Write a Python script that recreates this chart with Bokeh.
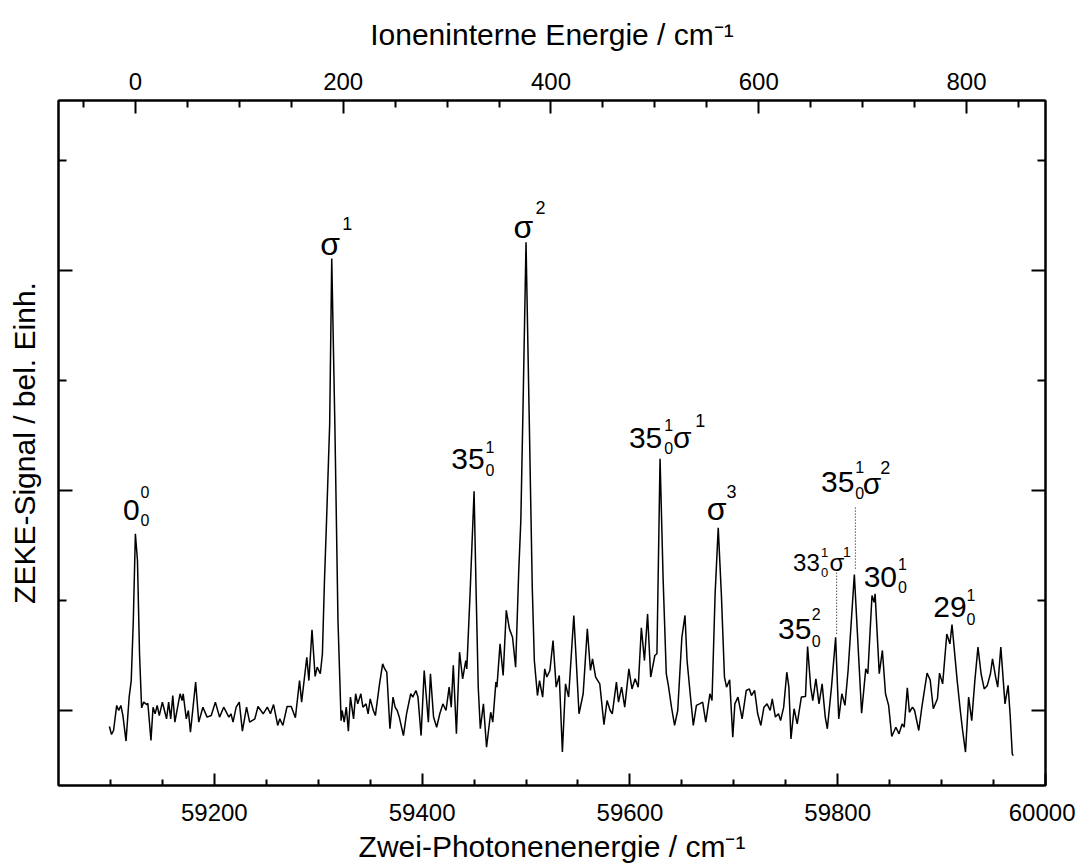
from bokeh.plotting import figure
from bokeh.models import Range1d, LinearAxis, FixedTicker, ColumnDataSource
from bokeh.embed import file_html
from bokeh.resources import INLINE
from bokeh.core.properties import value

# ---------------- data ----------------
wavenumber = [
    59099, 59101, 59103, 59106, 59108, 59110, 59112, 59115, 59118, 59120,
    59122, 59124, 59126, 59128, 59130, 59132, 59135, 59136, 59139, 59141,
    59143, 59145, 59147, 59150, 59152, 59154, 59156, 59158, 59160, 59162,
    59167, 59169, 59170, 59173, 59175, 59177, 59182, 59185, 59189, 59193,
    59197, 59201, 59205, 59209, 59214, 59216, 59218, 59221, 59224, 59227,
    59231, 59234, 59239, 59242, 59247, 59251, 59254, 59257, 59261, 59263,
    59266, 59270, 59274, 59278, 59282, 59284, 59289, 59291, 59294, 59297,
    59299, 59302, 59304, 59306, 59308, 59311, 59313, 59316, 59319, 59322,
    59323, 59325, 59327, 59329, 59331, 59334, 59336, 59338, 59341, 59343,
    59346, 59348, 59350, 59353, 59355, 59359, 59362, 59364, 59366, 59369,
    59372, 59374, 59376, 59378, 59382, 59385, 59389, 59391, 59394, 59396,
    59399, 59402, 59406, 59408, 59411, 59414,
    59417, 59420, 59423, 59426, 59428, 59430, 59433, 59436, 59439, 59442,
    59443, 59446, 59450, 59452, 59454, 59456, 59459, 59462, 59466, 59468,
    59471, 59472, 59475, 59478, 59481, 59484, 59487, 59490, 59493, 59495,
    59497, 59500, 59503, 59506, 59508, 59511, 59513, 59516, 59518, 59520,
    59523, 59526, 59529, 59532, 59535, 59538, 59541, 59546, 59548, 59551,
    59555, 59559, 59562, 59564, 59567, 59571, 59575, 59578, 59581, 59583,
    59587, 59589, 59592, 59595, 59599, 59602, 59605, 59608, 59611, 59614,
    59617, 59620, 59624, 59626, 59629, 59632, 59635, 59637, 59640, 59643,
    59646, 59650, 59653, 59655, 59658, 59661, 59664, 59667, 59670, 59673,
    59677, 59679, 59682, 59685, 59688, 59691, 59693, 59696, 59699, 59701,
    59704, 59708, 59712, 59715, 59717, 59720, 59723, 59726, 59729, 59732,
    59735, 59737, 59740, 59743, 59745, 59748, 59751, 59753, 59755, 59758,
    59761, 59765, 59769, 59771, 59774, 59776, 59779, 59782, 59785, 59788,
    59790, 59794, 59798, 59801, 59804, 59807, 59810, 59816, 59819, 59823,
    59827, 59829, 59833, 59835, 59836, 59840, 59843, 59846, 59849, 59852,
    59856, 59859, 59862, 59864, 59867, 59869, 59872, 59874, 59878, 59881,
    59886, 59889, 59892, 59896, 59898, 59901, 59905, 59908, 59910, 59915,
    59918, 59920, 59923, 59926, 59929, 59932, 59935, 59938, 59941, 59944,
    59947, 59949, 59952, 59954, 59957, 59961, 59964, 59966, 59968, 59969,
]
zeke_signal = [
    -0.073, -0.109, -0.091, 0.023, 0.000, 0.023, -0.023, -0.139, 0.061, 0.136,
    0.409, 0.803, 0.682, 0.257, 0.012, 0.038, 0.027, 0.033, -0.136, 0.015,
    -0.015, 0.023, -0.023, 0.038, 0.000, -0.038, 0.038, -0.038, 0.068, -0.053,
    0.076, 0.045, 0.076, -0.038, 0.000, -0.099, 0.129, -0.053, 0.015, -0.030,
    -0.023, 0.038, -0.030, 0.015, -0.030, -0.015, -0.053, 0.015, 0.038, -0.094,
    0.015, -0.053, -0.038, 0.018, -0.015, 0.015, -0.015, 0.027, -0.068, -0.038,
    -0.068, 0.018, 0.018, -0.033, 0.136, 0.038, 0.242, 0.136, 0.367, 0.155,
    0.197, 0.167, 0.257, 0.591, 0.863, 1.300, 2.055, 1.300, 0.409, -0.046,
    0.000, -0.053, 0.015, -0.094, 0.061, -0.038, 0.076, 0.030, 0.076, 0.015,
    0.030, -0.015, 0.053, 0.000, -0.023, 0.121, 0.212, 0.189, 0.174, -0.083,
    0.061, 0.015, 0.000, -0.030, -0.114, -0.015, 0.076, 0.061, 0.091, 0.061,
    -0.114, 0.182, -0.053, 0.167, -0.030, -0.076,
    -0.015, 0.030, 0.000, 0.106, 0.015, 0.205, -0.106, 0.265, 0.144, 0.227,
    0.189, 0.515, 0.997, 0.530, 0.106, -0.083, 0.030, -0.167, -0.008, -0.053,
    0.129, 0.106, 0.303, 0.159, 0.455, 0.371, 0.333, 0.197, 0.636, 0.863,
    1.350, 2.129, 1.350, 0.560, 0.227, 0.068, 0.136, 0.061, 0.189, 0.152,
    0.182, 0.318, 0.106, 0.159, -0.189, 0.121, 0.061, 0.432, 0.257, -0.015,
    0.076, 0.371, 0.182, 0.235, 0.152, 0.121, -0.064, 0.045, 0.000, -0.015,
    0.129, 0.038, 0.106, 0.015, 0.189, 0.098, 0.144, 0.106, 0.376, 0.227,
    0.439, 0.152, 0.250, 0.258, 1.144, 0.591, 0.167, 0.114, 0.015, -0.068,
    0.000, 0.333, 0.432, 0.227, 0.076, -0.068, 0.023, 0.030, 0.038, -0.053,
    0.076, 0.045, 0.530, 0.830, 0.530, 0.152, 0.106, 0.139, -0.121, 0.030,
    0.061, -0.038, 0.091, 0.098, 0.068, 0.091, -0.015, -0.068, 0.015, 0.030,
    0.000, 0.053, -0.030, -0.015, -0.046, 0.015, 0.174, 0.106, -0.129, 0.008,
    -0.061, 0.061, 0.064, 0.291, 0.106, 0.045, 0.144, 0.030, 0.121, -0.030,
    -0.083, 0.106, 0.333, -0.038, 0.076, 0.023, 0.182, 0.618, 0.348, -0.012,
    0.189, 0.167, 0.523, 0.492, 0.530, 0.167, 0.273, 0.076, 0.023, -0.118,
    -0.076, -0.106, -0.061, -0.076, 0.103, -0.008, 0.015, 0.000, -0.091, 0.015,
    0.170, 0.139, 0.008, 0.053, 0.170, 0.121, 0.348, 0.303, 0.391, 0.136,
    0.000, -0.083, -0.189, 0.061, -0.046, 0.136, 0.288, 0.167, 0.098, 0.114,
    0.167, 0.235, 0.152, 0.106, 0.288, 0.030, 0.114, -0.023, -0.197, -0.205,
]

# band origin (0-0 transition) used for the ion internal energy axis
band_origin = 59124

bottom_ticks = [59200, 59400, 59600, 59800, 60000]
bottom_minor = [59100, 59150, 59250, 59300, 59350, 59450, 59500, 59550,
                59650, 59700, 59750, 59850, 59900, 59950]
top_ticks = [0, 200, 400, 600, 800]
top_minor = [-50, 50, 100, 150, 250, 300, 350, 450, 500, 550, 650, 700, 750, 850]
y_ticks = [0, 1, 2]
y_minor = [0.5, 1.5, 2.5]

# peak assignments: pieces of text (main, subscript, superscript)
label_text = ["0", "0", "0",
              "σ", "1",
              "σ", "2",
              "35", "0", "1",
              "35", "0", "1", "σ", "1",
              "σ", "3",
              "35", "0", "1", "σ", "2",
              "33", "0", "1", "σ", "1",
              "30", "0", "1",
              "35", "0", "2",
              "29", "0", "1"]
label_x = [59112, 59129, 59129,
           59302, 59323,
           59488, 59509,
           59428, 59461, 59461,
           59599, 59633, 59633, 59641.5, 59663,
           59674, 59693,
           59784, 59817, 59817, 59824, 59841,
           59757, 59784, 59784, 59792, 59805,
           59825, 59858, 59858,
           59742.5, 59775, 59775,
           59892, 59924, 59924]
label_y = [0.912, 0.864, 0.992,
           2.121, 2.212,
           2.197, 2.288,
           1.144, 1.094, 1.197,
           1.241, 1.195, 1.300, 1.241, 1.318,
           0.917, 0.997,
           1.038, 0.988, 1.106, 1.030, 1.106,
           0.674, 0.629, 0.720, 0.674, 0.720,
           0.609, 0.560, 0.667,
           0.371, 0.318, 0.440,
           0.470, 0.417, 0.523]
label_size = ["30px", "16px", "16px",
              "32px", "18px",
              "32px", "18px",
              "30px", "16px", "16px",
              "30px", "16px", "16px", "30px", "18px",
              "32px", "18px",
              "30px", "16px", "16px", "30px", "18px",
              "24px", "13px", "13px", "24px", "14px",
              "30px", "16px", "16px",
              "30px", "16px", "16px",
              "30px", "16px", "16px"]

# dotted assignment lines
guide_x = [59817, 59799]
guide_y0 = [0.645, 0.349]
guide_y1 = [0.924, 0.629]

FONT = "Liberation Sans"

p = figure(frame_width=987, frame_height=685,
           x_range=Range1d(59050, 60000), y_range=Range1d(-0.341, 2.773),
           output_backend="svg", toolbar_location=None,
           x_axis_location=None, y_axis_location=None,
           min_border_left=58, min_border_right=30,
           min_border_top=100, min_border_bottom=78,
           background_fill_color="white", border_fill_color="white")
p.grid.visible = False
p.outline_line_color = "black"
p.outline_line_width = 2

p.extra_x_ranges = {"ion": Range1d(59050 - band_origin, 60000 - band_origin)}


def style(ax, major_len, minor_len):
    ax.axis_line_color = "black"
    ax.axis_line_width = 2
    ax.major_tick_line_width = 2
    ax.minor_tick_line_width = 2
    ax.major_tick_in = major_len
    ax.major_tick_out = 0
    ax.minor_tick_in = minor_len
    ax.minor_tick_out = 0
    ax.major_label_text_font = FONT
    ax.major_label_text_font_size = "24px"
    ax.major_label_text_color = "black"
    ax.axis_label_text_font = FONT
    ax.axis_label_text_font_size = "30px"
    ax.axis_label_text_font_style = "normal"
    ax.axis_label_text_color = "black"


xb = LinearAxis(ticker=FixedTicker(ticks=bottom_ticks, minor_ticks=bottom_minor),
                axis_label="Zwei-Photonenenergie / cm⁻¹")
style(xb, 12, 6)
xb.major_label_standoff = 18
xb.axis_label_standoff = 6
p.add_layout(xb, "below")

xt = LinearAxis(x_range_name="ion",
                ticker=FixedTicker(ticks=top_ticks, minor_ticks=top_minor),
                axis_label="Ioneninterne Energie / cm⁻¹")
style(xt, 13, 7)
xt.major_label_standoff = 11
xt.axis_label_standoff = 19
p.add_layout(xt, "above")

yl = LinearAxis(ticker=FixedTicker(ticks=y_ticks, minor_ticks=y_minor),
                axis_label="ZEKE-Signal / bel. Einh.")
style(yl, 14, 8)
yl.major_label_text_font_size = "1px"
yl.major_label_text_color = None
yl.major_label_standoff = 0
yl.axis_label_standoff = 18
p.add_layout(yl, "left")

yr = LinearAxis(ticker=FixedTicker(ticks=y_ticks, minor_ticks=y_minor))
style(yr, 14, 8)
yr.major_label_text_font_size = "1px"
yr.major_label_text_color = None
yr.major_label_standoff = 0
p.add_layout(yr, "right")

p.line(wavenumber, zeke_signal, line_color="black", line_width=1.5)

p.segment(x0=guide_x, y0=guide_y0, x1=guide_x, y1=guide_y1,
          line_color="black", line_width=1, line_dash="1 2")

src = ColumnDataSource(dict(x=label_x, y=label_y, text=label_text, size=label_size))
p.text(x="x", y="y", text="text", source=src, text_font=value(FONT),
       text_font_size="size", text_align="left", text_baseline="alphabetic",
       text_color="black")

open("out.html", "w").write(file_html(p, INLINE))
